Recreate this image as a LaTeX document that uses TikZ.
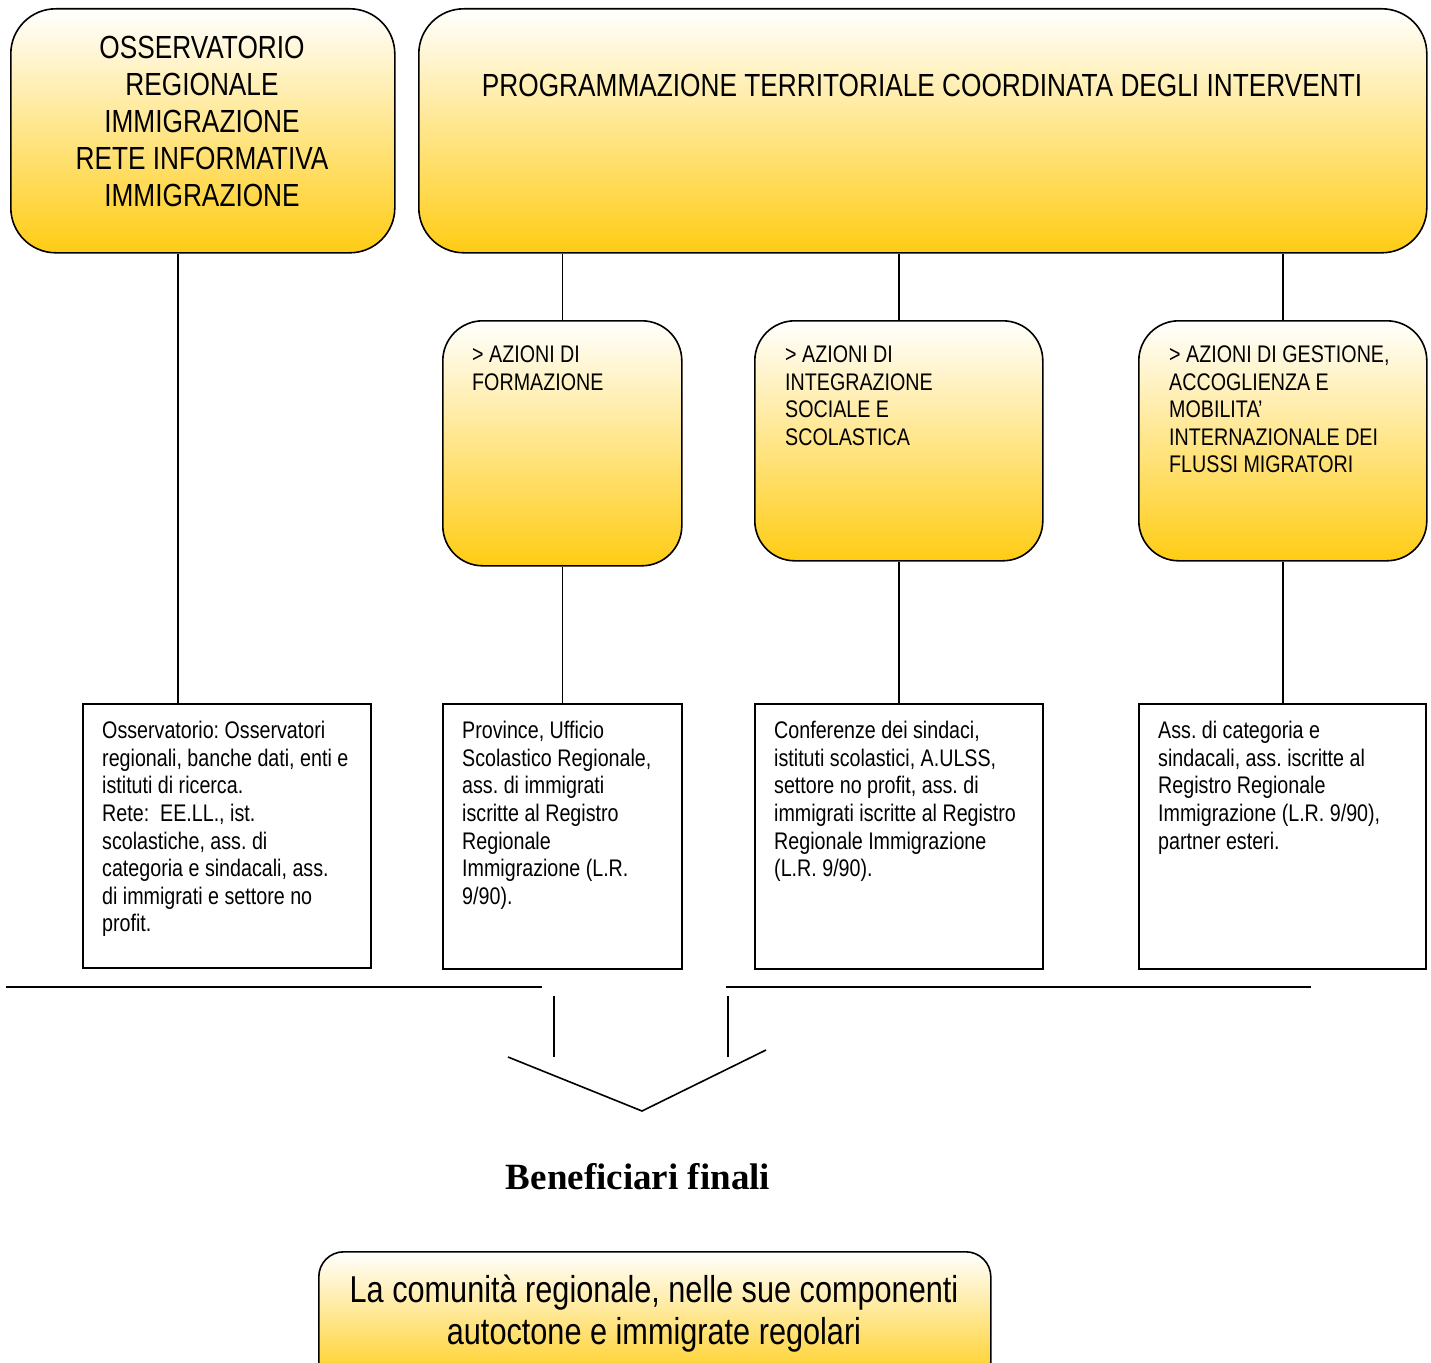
\documentclass[tikz,border=0pt]{standalone}
\usepackage{fontspec}
\setmainfont[FakeStretch=0.82]{Liberation Sans}
\newfontfamily\benfont{Liberation Serif}
\definecolor{gold}{RGB}{255,204,20}
\definecolor{cream}{RGB}{255,239,205}
\frenchspacing
\begin{document}
\begin{tikzpicture}[x=1pt,y=-1pt,
  gbox/.style={draw, line width=1.6pt, rounded corners=#1, top color=white,
    middle color=cream, bottom color=gold, inner sep=0pt, anchor=north west},
  wbox/.style={draw, line width=1.6pt, fill=white, inner sep=0pt, anchor=north west},
  bigtxt/.style={inner sep=0pt, align=center, font=\fontsize{32}{37}\selectfont},
  smalltxt/.style={inner sep=0pt, align=left, anchor=north west, font=\fontsize{24}{27.6}\selectfont},
  conn/.style={line width=1.6pt}
]
\useasboundingbox (0,0) rectangle (1431,1362);

% top boxes
\node[gbox=45pt, minimum width=384pt, minimum height=244pt] (A) at (10,8) {};
\node[gbox=45pt, minimum width=1008pt, minimum height=244pt] (B) at (418,8) {};
\node[bigtxt, anchor=north] (tA) at (202,35.5) {OSSERVATORIO\\REGIONALE\\IMMIGRAZIONE\\RETE INFORMATIVA\\IMMIGRAZIONE};
\node[bigtxt, anchor=north] (tB) at (922,74) {PROGRAMMAZIONE TERRITORIALE COORDINATA DEGLI INTERVENTI};

% action boxes
\node[gbox=40pt, minimum width=239pt, minimum height=245pt] (C1) at (442,320) {};
\node[gbox=40pt, minimum width=288pt, minimum height=240pt] (C2) at (754,320) {};
\node[gbox=40pt, minimum width=288pt, minimum height=240pt] (C3) at (1138,320) {};
\node[smalltxt] (tC1) at (472,345.5) {> AZIONI DI\\FORMAZIONE};
\node[smalltxt] (tC2) at (785,345.5) {> AZIONI DI\\INTEGRAZIONE\\SOCIALE E\\SCOLASTICA};
\node[smalltxt] (tC3) at (1169,345.5) {> AZIONI DI GESTIONE,\\ACCOGLIENZA E\\MOBILITA’\\INTERNAZIONALE DEI\\FLUSSI MIGRATORI};

% actor boxes
\node[wbox, minimum width=288pt, minimum height=264pt] (D1) at (82,703) {};
\node[wbox, minimum width=239pt, minimum height=265pt] (D2) at (442,703) {};
\node[wbox, minimum width=288pt, minimum height=265pt] (D3) at (754,703) {};
\node[wbox, minimum width=287pt, minimum height=265pt] (D4) at (1138,703) {};
\node[smalltxt] (tD1) at (102,721) {Osservatorio: Osservatori\\regionali, banche dati, enti e\\istituti di ricerca.\\Rete:\ \ EE.LL., ist.\\scolastiche, ass. di\\categoria e sindacali, ass.\\di immigrati e settore no\\profit.};
\node[smalltxt] (tD2) at (462,721) {Province, Ufficio\\Scolastico Regionale,\\ass. di immigrati\\iscritte al Registro\\Regionale\\Immigrazione (L.R.\\9/90).};
\node[smalltxt] (tD3) at (774,721) {Conferenze dei sindaci,\\istituti scolastici, A.ULSS,\\settore no profit, ass. di\\immigrati iscritte al Registro\\Regionale Immigrazione\\(L.R. 9/90).};
\node[smalltxt] (tD4) at (1158,721) {Ass. di categoria e\\sindacali, ass. iscritte al\\Registro Regionale\\Immigrazione (L.R. 9/90),\\partner esteri.};

% connectors
\coordinate (xa) at (178,0);
\draw[conn] (xa |- A.south) -- (xa |- D1.north);
\draw[conn] (B.south -| C1.north) -- (C1.north);
\draw[conn] (B.south -| C2.north) -- (C2.north);
\draw[conn] (B.south -| C3.north) -- (C3.north);
\draw[conn] (C1.south) -- (C1.south |- D2.north);
\draw[conn] (C2.south) -- (C2.south |- D3.north);
\draw[conn] (C3.south) -- (C3.south |- D4.north);

% bracket and funnel
\coordinate (h1) at (6,987);
\coordinate (h2) at (542,987);
\coordinate (h3) at (726,987);
\coordinate (h4) at (1311,987);
\coordinate (v1a) at (554,996);
\coordinate (v1b) at (554,1057);
\coordinate (v2a) at (728,996);
\coordinate (v2b) at (728,1057);
\coordinate (w1) at (508,1057);
\coordinate (w2) at (642,1111);
\coordinate (w3) at (766,1050);
\draw[conn] (h1) -- (h2);
\draw[conn] (h3) -- (h4);
\draw[conn] (v1a) -- (v1b);
\draw[conn] (v2a) -- (v2b);
\draw[conn] (w1) -- (w2) -- (w3);

\node[inner sep=0pt, anchor=base, font=\benfont\bfseries\fontsize{37}{42}\selectfont] (ben) at (638,1189) {Beneficiari finali};

% beneficiaries box
\node[gbox=25pt, minimum width=672pt, minimum height=135pt] (E) at (318,1251) {};
\node[inner sep=0pt, align=center, anchor=north, font=\fontsize{37.4}{42}\selectfont] (tE) at (654,1275) {La comunità regionale, nelle sue componenti\\autoctone e immigrate regolari};
\end{tikzpicture}
\end{document}
